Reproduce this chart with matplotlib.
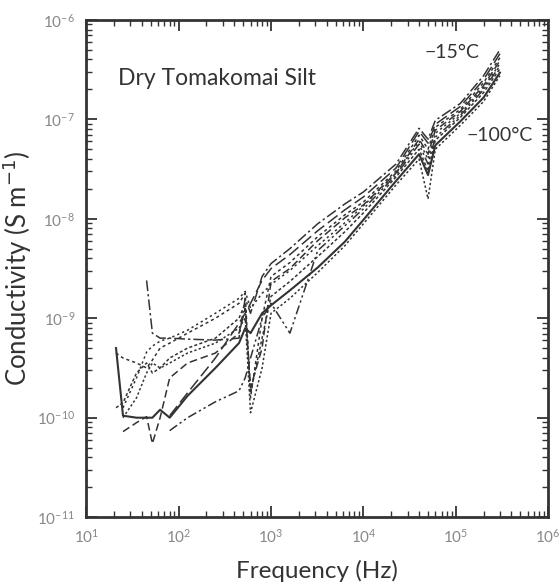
# dry_silt_conductivity.py
# Conductivity vs frequency for dry Tomakomai silt, -15 C down to -100 C.

import numpy as np
from matplotlib import pyplot as plt

plt.rcParams['font.family'] = ['Lato', 'DejaVu Sans']

# measurement frequencies (Hz)
freq_hz = [21, 25, 35, 45, 52, 63, 80, 125, 250, 450, 525, 600, 800,
           1000, 1600, 3200, 6300, 10000, 22500, 40000, 50000, 60000,
           112000, 200000, 300000]

# log10 of conductivity (S/m); nan = no point
nan = np.nan
c_15 = [nan, nan, nan, -8.62, -9.15, -9.20, -9.20, -9.21, -9.22, -9.20, -8.80, -8.95, -8.58,
        -8.45, -8.30, -8.05, -7.85, -7.73, -7.45, -7.09, -7.20, -7.01, -6.84, -6.56, -6.30]
c_25 = [nan, nan, nan, nan, nan, nan, -9.98, -9.75, -9.40, -9.05, -8.95, -8.85, -8.62,
        -8.50, -8.36, -8.12, -7.91, -7.78, -7.49, -7.12, -7.24, -7.05, -6.87, -6.60, -6.34]
c_35 = [-9.35, -9.40, -9.45, -9.50, -9.42, -9.30, -9.25, -9.15, -9.00, -8.85, -8.75, -9.80, -9.00,
        -8.58, -8.44, -8.18, -7.96, -7.83, -7.52, -7.16, -7.30, -7.08, -6.90, -6.63, -6.38]
c_45 = [nan, -10.14, -10.05, -9.99, -10.26, -10.00, -9.60, -9.45, -9.35, -9.15, -8.90, -9.70, -9.30,
        -8.63, -8.50, -8.22, -7.99, -7.86, -7.54, -7.20, -7.35, -7.11, -6.92, -6.66, -6.41]
c_55 = [nan, -9.90, -9.60, -9.34, -9.28, -9.23, -9.20, -9.12, -8.95, -8.80, -8.73, -8.90, -8.75,
        -8.66, -8.52, -8.27, -8.04, -7.87, -7.54, -7.22, -7.40, -7.14, -6.94, -6.68, -6.44]
c_65 = [nan, nan, nan, nan, nan, nan, -10.13, -10.00, -9.84, -9.73, -9.60, -9.40, -9.00,
        -8.85, -9.15, -8.32, -8.07, -7.90, -7.56, -7.25, -7.45, -7.18, -6.96, -6.70, -6.46]
c_75 = [-9.90, -9.85, -9.55, -9.45, -9.55, -9.50, -9.40, -9.30, -9.20, -9.00, -8.85, -9.75, -9.20,
        -8.78, -8.63, -8.38, -8.13, -7.94, -7.58, -7.30, -7.52, -7.21, -6.98, -6.73, -6.49]
c_85 = [-9.30, -9.98, -10.00, -10.00, -10.00, -9.92, -10.00, -9.78, -9.50, -9.25, -9.10, -9.15, -8.95,
        -8.87, -8.72, -8.49, -8.23, -8.01, -7.62, -7.35, -7.56, -7.26, -7.02, -6.78, -6.53]
c_100 = [nan, -10.00, -9.80, -9.55, -9.45, -9.50, -9.45, -9.35, -9.25, -9.10, -9.00, -9.95, -9.50,
         -8.95, -8.80, -8.54, -8.27, -8.05, -7.66, -7.40, -7.80, -7.30, -7.06, -6.82, -6.56]

series = [c_15, c_25, c_35, c_45, c_55, c_65, c_75, c_85, c_100]
styles = [(0, (7, 2, 1.5, 2)), (0, (8, 3)), (0, (2, 2)), (0, (5, 2.5)),
          (0, (1.5, 2)), (0, (6, 2, 1.5, 2, 1.5, 2)), (0, (2, 1.5)), '-',
          (0, (1.5, 1.5))]
widths = [1.1, 1.1, 1.1, 1.1, 1.1, 1.1, 1.1, 1.5, 1.1]

fig = plt.figure(figsize=(5.6, 5.85), dpi=100)
ax = fig.add_axes([0.154, 0.116, 0.825, 0.85])

for vals, ls, lw in zip(series, styles, widths):
    y = 10 ** np.array(vals)
    ax.plot(freq_hz, y, linestyle=ls, color='#333333', lw=lw)

ax.set_xscale('log')
ax.set_yscale('log')
ax.set_xlim(1e1, 1e6)
ax.set_ylim(1e-11, 1e-6)

ax.tick_params(which='both', direction='in', top=True, right=True,
               labelsize=11, labelcolor='#888888', color='#333333')
ax.tick_params(which='major', length=8, width=1.3, pad=8)
ax.tick_params(which='minor', length=4, width=1)
for s in ax.spines.values():
    s.set_linewidth(2)
    s.set_color('#333333')

ax.set_xlabel('Frequency (Hz)', fontsize=17.5, color='#333333', labelpad=10)
ax.set_ylabel('Conductivity (S m$^{-1}$)', fontsize=18.5, color='#333333', labelpad=2)

ax.text(22, 2.6e-7, 'Dry Tomakomai Silt', fontsize=16.5, color='#333333', va='center')
ax.text(4.6e4, 4.7e-7, '\u221215\u00b0C', fontsize=14, color='#333333', va='center')
ax.text(1.3e5, 6.9e-8, '\u2212100\u00b0C', fontsize=14, color='#333333', va='center')

plt.savefig('out.png', dpi=100)
